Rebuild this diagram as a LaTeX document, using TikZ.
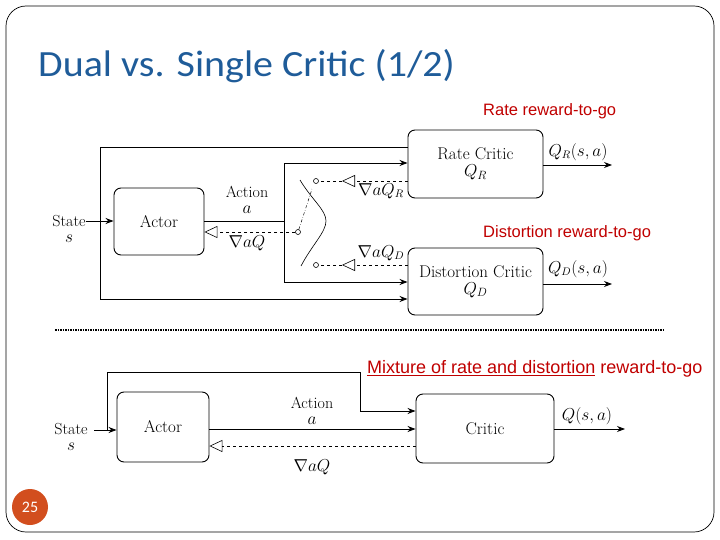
\documentclass[tikz,border=0pt]{standalone}
\usepackage{fontspec}
\setmainfont{Latin Modern Roman}
\newfontfamily\carl{Carlito}
\newfontfamily\lib{Liberation Sans}
\usetikzlibrary{arrows.meta,calc}
\definecolor{titleblue}{HTML}{1F5C99}
\definecolor{redlab}{HTML}{C00000}
\definecolor{numorange}{HTML}{D24E1E}
\begin{document}
\begin{tikzpicture}[x=1pt,y=-1pt,
  box/.style={draw,rounded corners=7pt,line width=0.9pt},
  bf/.style={font=\fontsize{17}{17}\selectfont},
  arr/.style={-{Stealth[length=8pt,width=6pt]},line width=0.9pt},
  grad/.style={dashed,-{Triangle[open,length=13pt,width=12pt]},line width=0.6pt},
  lab/.style={font=\fontsize{16}{16}\selectfont,align=center,inner sep=0pt},
  red/.style={text=redlab,font=\lib\fontsize{16.5}{18}\selectfont,inner sep=0pt,anchor=west},
  sw/.style={draw,circle,fill=white,inner sep=0pt,minimum size=5pt,line width=0.6pt}]
\useasboundingbox (0,0) rectangle (720,540);
\draw[rounded corners=20pt,line width=0.7pt] (6,6) rectangle (714,532);
\node[anchor=west,text=titleblue,font=\carl\fontsize{37}{42}\selectfont,inner sep=0pt,xscale=1.08] (title) at (38,66) {Dual vs. Single Critic (1/2)};
\node[circle,fill=numorange,minimum size=36pt,inner sep=0pt,text=white,font=\carl\fontsize{16}{18}\selectfont] (pn) at (30,507) {25};

% ---------- top diagram
\node[box,bf,minimum width=90pt,minimum height=67pt] (actor) at (159,221.5) {Actor};
\node[box,bf,minimum width=135pt,minimum height=68pt,align=center] (rc) at (475.5,164) {Rate Critic\\ $Q_R$};
\node[box,bf,minimum width=135pt,minimum height=67pt,align=center] (dc) at (475.5,281.5) {Distortion Critic\\ $Q_D$};
\node[lab] (st1) at (69,229) {State\\ $s$};
\coordinate (lft) at (100,221);
\draw[arr] (st1.east|-lft) -- (actor.west|-lft);
\draw[line width=0.9pt,-{Stealth[length=8pt,width=6pt]}] (rc.west|-0,147) -| (100,299) -- (dc.west|-0,299);
\draw[line width=0.9pt] (actor.east|-lft) -- (284,221);
\draw[arr] (284,221) |- (rc.west|-0,163);
\draw[arr] (284,221) |- (dc.west|-0,282);
\node[lab] (act1) at (247,200) {Action\\ $a$};
% switch
\node[sw] (c1) at (316,181) {};
\node[sw] (c2) at (316,265) {};
\node[sw] (c0) at (298,232) {};
\draw[grad] (rc.west|-0,181) -- (342,181);
\draw[dashed,line width=0.5pt] (342,181) -- (c1);
\draw[grad] (dc.west|-0,265) -- (342,265);
\draw[dashed,line width=0.5pt] (342,265) -- (c2);
\draw[grad] (c0) -- (actor.east|-c0);
\draw[dash dot,line width=0.5pt] (c0) -- (312,189);
\draw[line width=0.6pt] (300,180) .. controls (312,200) and (326,210) .. (326,221) .. controls (326,232) and (312,245) .. (301,266);
\node[lab] (g0) at (247,243) {$\nabla aQ$};
\node[lab] (gr) at (381,191) {$\nabla aQ_R$};
\node[lab] (gd) at (381,253) {$\nabla aQ_D$};
\coordinate (o1) at (612,165);
\coordinate (o2) at (612,284);
\draw[arr] (rc.east|-o1) -- (o1);
\draw[arr] (dc.east|-o2) -- (o2);
\node[lab] (qr) at (578,152) {$Q_R(s,a)$};
\node[lab] (qd) at (578,269) {$Q_D(s,a)$};
\node[red] (r1) at (483,111) {Rate reward-to-go};
\node[red] (r2) at (483,233) {Distortion reward-to-go};

% separator
\draw[line width=2.2pt,dash pattern=on 1.5pt off 1pt] (55,330) -- (665,330);

% ---------- bottom diagram
\node[box,bf,minimum width=92pt,minimum height=70pt] (actor2) at (163,427) {Actor};
\node[box,bf,minimum width=138pt,minimum height=69pt] (cr) at (485,428.5) {Critic};
\node[lab] (st2) at (71,437) {State\\ $s$};
\coordinate (l2) at (94,430);
\draw[arr] (l2) -- (actor2.west|-l2);
\draw[arr] (107,430) -- (107,372) -- (360,372) |- (cr.west|-0,411);
\draw[arr] (actor2.east|-0,429) -- (cr.west|-0,429);
\draw[grad] (cr.west|-0,446) -- (actor2.east|-0,446);
\node[lab] (act2) at (312,411) {Action\\ $a$};
\node[lab] (g2) at (312,467) {$\nabla aQ$};
\coordinate (o3) at (625,429);
\draw[arr] (cr.east|-o3) -- (o3);
\node[lab] (q) at (587,416) {$Q(s,a)$};
\node[red,font=\lib\fontsize{18}{20}\selectfont] (r3) at (367,369) {\underline{Mixture of rate and distortion} reward-to-go};
\end{tikzpicture}
\end{document}
